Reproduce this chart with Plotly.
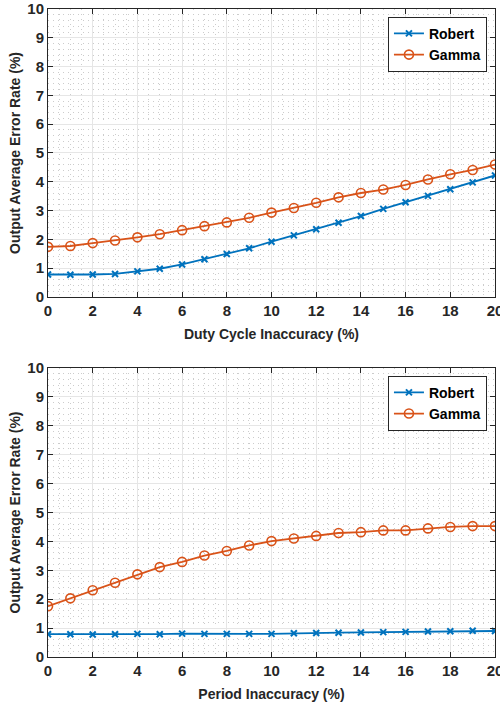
import plotly.graph_objects as go

x_vals = list(range(0, 21))
duty_robert = [0.78, 0.77, 0.78, 0.80, 0.89, 0.98, 1.13, 1.31, 1.49, 1.69, 1.92,
               2.14, 2.35, 2.58, 2.81, 3.06, 3.29, 3.51, 3.74, 3.98, 4.22]
duty_gamma = [1.74, 1.77, 1.87, 1.96, 2.07, 2.18, 2.32, 2.46, 2.59, 2.75, 2.93,
              3.09, 3.27, 3.46, 3.61, 3.73, 3.89, 4.08, 4.26, 4.41, 4.60]
period_robert = [0.79, 0.79, 0.78, 0.79, 0.80, 0.79, 0.81, 0.80, 0.80, 0.80, 0.80,
                 0.82, 0.83, 0.84, 0.85, 0.86, 0.87, 0.88, 0.89, 0.91, 0.90]
period_gamma = [1.76, 2.03, 2.31, 2.57, 2.86, 3.11, 3.29, 3.51, 3.67, 3.86, 4.01,
                4.10, 4.19, 4.29, 4.32, 4.38, 4.38, 4.45, 4.50, 4.53, 4.53]
x_titles = ["Duty Cycle Inaccuracy (%)", "Period Inaccuracy (%)"]
y_title = "Output Average Error Rate (%)"

BLUE = "#0072BD"
ORANGE = "#D95319"
FONT = "Liberation Sans"
AX = "#262626"

fig = go.Figure()

panels = [(duty_robert, duty_gamma, "x", "y"), (period_robert, period_gamma, "x2", "y2")]
for i, (rob, gam, xa, ya) in enumerate(panels):
    lg = "legend" if i == 0 else "legend2"
    fig.add_trace(go.Scatter(x=x_vals, y=rob, mode="lines+markers", name="Robert",
                             line=dict(color=BLUE, width=1.8),
                             marker=dict(symbol="x-thin", size=6, line=dict(color=BLUE, width=2)),
                             xaxis=xa, yaxis=ya, legend=lg))
    fig.add_trace(go.Scatter(x=x_vals, y=gam, mode="lines+markers", name="Gamma",
                             line=dict(color=ORANGE, width=1.8),
                             marker=dict(symbol="circle-open", size=9, line=dict(color=ORANGE, width=1.6)),
                             xaxis=xa, yaxis=ya, legend=lg))

tickfont = dict(family=FONT, size=15, color=AX, weight="bold")
titlefont = dict(family=FONT, size=14, color=AX, weight="bold")

MINOR = dict(showgrid=True, gridcolor="#cccccc", griddash="1px,4px", gridwidth=1, ticks="")

def xaxis(anchor, title):
    return dict(range=[0, 20], dtick=2, tick0=0, anchor=anchor, automargin=False,
                showgrid=True, gridcolor="#e6e6e6", gridwidth=1,
                minor=dict(dtick=0.5, **MINOR),
                ticks="inside", ticklen=5, tickcolor=AX, tickwidth=1,
                showline=True, linecolor=AX, linewidth=1, mirror="ticks",
                zeroline=False, tickfont=tickfont, ticklabeloverflow="allow",
                title=dict(text=title, font=titlefont, standoff=11))

def yaxis(domain, anchor):
    return dict(range=[0, 10], dtick=1, tick0=0, domain=domain, anchor=anchor, automargin=False,
                showgrid=True, gridcolor="#e6e6e6", gridwidth=1,
                minor=dict(dtick=0.2, **MINOR),
                ticks="inside", ticklen=5, tickcolor=AX, tickwidth=1,
                showline=True, linecolor=AX, linewidth=1, mirror="ticks",
                zeroline=False, tickfont=tickfont, ticklabeloverflow="allow",
                title=dict(text=y_title, font=titlefont, standoff=3))

legend_common = dict(font=dict(family=FONT, size=14, color="#000000", weight="bold"),
                     bgcolor="white", bordercolor=AX, borderwidth=1,
                     xanchor="right", yanchor="top", x=0.982, tracegroupgap=0,
                     itemwidth=30)

fig.update_layout(
    width=500, height=704,
    margin=dict(l=48, r=5, t=9, b=47),
    paper_bgcolor="white", plot_bgcolor="white",
    showlegend=True,
    xaxis=xaxis("y", x_titles[0]),
    yaxis=yaxis([0.5556, 1.0], "x"),
    xaxis2=xaxis("y2", x_titles[1]),
    yaxis2=yaxis([0.0, 0.446], "x2"),
    legend=dict(**legend_common, y=0.988),
    legend2=dict(**legend_common, y=0.434),
)

fig.write_html("out.html")
